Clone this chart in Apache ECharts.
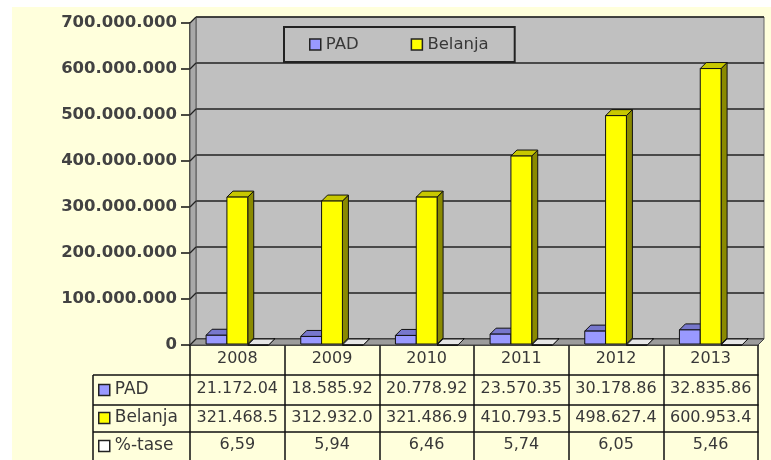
<!DOCTYPE html>
<html><head><meta charset="utf-8">
<script src="https://cdn.jsdelivr.net/npm/echarts@6/dist/echarts.min.js"></script>
<style>
html,body{margin:0;padding:0;background:#fff;}
#bg{position:absolute;left:12px;top:7px;width:759px;height:453px;background:#FFFFDC;}
#c{position:absolute;left:0;top:0;width:771px;height:460px;}
</style></head>
<body><div id="bg"></div><div id="c"></div>
<script>
const categories = ['2008', '2009', '2010', '2011', '2012', '2013'];
const pad = [21172040, 18585920, 20778920, 23570350, 30178860, 32835860];
const belanja = [321468500, 312932000, 321486900, 410793500, 498627400, 600953400];
const tase = [6.59, 5.94, 6.46, 5.74, 6.05, 5.46];
const yMin = 0, yMax = 700000000, yStep = 100000000;

const FONT = 'DejaVu Sans';
const TXT = '#383838';
function dots(v){ return String(Math.round(v)).replace(/\B(?=(\d{3})+(?!\d))/g, '.'); }
const padLabels = pad.map(v => dots(v).slice(0, 9));
const belLabels = belanja.map(v => dots(v).slice(0, 9));
const taseLabels = tase.map(v => v.toFixed(2).replace('.', ','));

const D = 6;
function make3D(k, front, topc, side){
  return function(params, api){
    const i = api.value(0), v = api.value(1);
    const t = api.coord([i, v]);
    const b = api.coord([i, 0]);
    const cw = api.size([1, 0])[0];
    const bw = cw * 0.22;
    const x0 = t[0] + (k - 1.5) * bw;
    const x1 = x0 + bw;
    const yT = t[1], yB = b[1] - 1;
    const st = {stroke:'#111', lineWidth:1};
    return {type:'group', children:[
      {type:'polygon', shape:{points:[[x1,yB],[x1+D,yB-D],[x1+D,yT-D],[x1,yT]]}, style:Object.assign({fill:side}, st)},
      {type:'polygon', shape:{points:[[x0,yT],[x0+D,yT-D],[x1+D,yT-D],[x1,yT]]}, style:Object.assign({fill:topc}, st)},
      {type:'rect', shape:{x:x0, y:yT, width:bw, height:Math.max(0, yB-yT)}, style:Object.assign({fill:front}, st)}
    ]};
  };
}
const toData = arr => arr.map((v, i) => [i, v]);

const L = 190, R = 758, T = 23, B = 345;
const chart = echarts.init(document.getElementById('c'), null, {renderer:'canvas'});

function rowAxis(offset, len, margin, labels){
  return {
    type:'category', gridIndex:0, data:categories, position:'bottom', offset:offset,
    axisLine:{show:true, lineStyle:{color:'#111', width:1.5}},
    axisTick:{show:true, length:len, lineStyle:{color:'#111', width:1.5}},
    axisLabel:{interval:0, margin:margin, fontFamily:FONT, fontSize:16, color:TXT,
      formatter: labels ? ((val, idx) => labels[idx]) : undefined},
    splitLine:{show:false}
  };
}

const option = {
  animation:false,
  backgroundColor:'transparent',
  grid:[
    {left:L, right:771-R, top:T, bottom:460-B},
    {left:L+D, right:771-R-D, top:T-D, bottom:460-B+D, show:true, backgroundColor:'#C0C0C0', borderColor:'#666', borderWidth:1}
  ],
  legend:[
    {left:284, top:27, orient:'horizontal', padding:[9,26,9,25], itemGap:52, itemWidth:11, itemHeight:11,
      borderColor:'#222', borderWidth:2, textStyle:{fontFamily:FONT, fontSize:16.5, color:TXT},
      data:[{name:'PAD', icon:'rect', itemStyle:{color:'#9999FF', borderColor:'#222', borderWidth:1.5}},
            {name:'Belanja', icon:'rect', itemStyle:{color:'#FFFF00', borderColor:'#222', borderWidth:1.5}}]},
    {left:98, top:381, orient:'vertical', padding:0, itemGap:10, itemWidth:11, itemHeight:11,
      textStyle:{fontFamily:FONT, fontSize:17, color:TXT, lineHeight:18},
      data:[{name:'PAD', icon:'rect', itemStyle:{color:'#9999FF', borderColor:'#222', borderWidth:1.5}},
            {name:'Belanja', icon:'rect', itemStyle:{color:'#FFFF00', borderColor:'#222', borderWidth:1.5}},
            {name:'%-tase', icon:'rect', itemStyle:{color:'#FFFFFF', borderColor:'#222', borderWidth:1.5}}]}
  ],
  xAxis:[
    rowAxis(0, 30, 6, null),
    rowAxis(30, 30, 6, padLabels),
    rowAxis(60, 27, 5, belLabels),
    rowAxis(87, 30, 5, taseLabels),
    {type:'category', gridIndex:1, data:categories, show:false}
  ],
  yAxis:[
    {type:'value', gridIndex:0, min:yMin, max:yMax, interval:yStep,
      axisLine:{show:true, lineStyle:{color:'#111', width:1.5}},
      axisTick:{show:true, length:9, lineStyle:{color:'#111', width:1.5}},
      axisLabel:{margin:13, fontFamily:FONT, fontSize:16.5, fontWeight:'bold', color:'#424242', formatter:v => dots(v)},
      splitLine:{show:false}},
    {type:'value', gridIndex:1, min:yMin, max:yMax, interval:yStep,
      axisLine:{show:false}, axisTick:{show:false}, axisLabel:{show:false},
      splitLine:{show:true, lineStyle:{color:'#222', width:1.5}}}
  ],
  graphic:[
    {type:'polygon', z:1, shape:{points:[[L,T],[L+D,T-D],[L+D,B-D],[L,B]]}, style:{fill:'#A9A9A9', stroke:'#555', lineWidth:1}},
    {type:'polygon', z:1, shape:{points:[[L,B],[L+D,B-D],[R+D,B-D],[R,B]]}, style:{fill:'#9C9C9C', stroke:'#444', lineWidth:1}},
    {type:'line', z:5, shape:{x1:93, y1:375, x2:L, y2:375}, style:{stroke:'#111', lineWidth:1.5}},
    {type:'line', z:5, shape:{x1:93, y1:405, x2:L, y2:405}, style:{stroke:'#111', lineWidth:1.5}},
    {type:'line', z:5, shape:{x1:93, y1:432, x2:L, y2:432}, style:{stroke:'#111', lineWidth:1.5}},
    {type:'line', z:5, shape:{x1:93, y1:375, x2:93, y2:460}, style:{stroke:'#111', lineWidth:1.5}}
  ],
  series:[
    {name:'PAD', type:'custom', xAxisIndex:0, yAxisIndex:0, z:3, itemStyle:{color:'#9999FF'},
      renderItem:make3D(0, '#9999FF', '#7777CC', '#4C4C80'), encode:{x:0, y:1}, data:toData(pad)},
    {name:'Belanja', type:'custom', xAxisIndex:0, yAxisIndex:0, z:4, itemStyle:{color:'#FFFF00'},
      renderItem:make3D(1, '#FFFF00', '#C8C800', '#8A8A00'), encode:{x:0, y:1}, data:toData(belanja)},
    {name:'%-tase', type:'custom', xAxisIndex:0, yAxisIndex:0, z:2, itemStyle:{color:'#FFFFFF'},
      renderItem:make3D(2, '#FFFFFF', '#E6E6E6', '#909090'), encode:{x:0, y:1}, data:toData(tase)}
  ]
};
chart.setOption(option);

// slanted tick lines on the side wall, positioned from the axis scale
const extra = [];
for (let v = yMin; v <= yMax; v += yStep){
  const y = chart.convertToPixel({yAxisIndex:0}, v);
  extra.push({type:'line', z:1, shape:{x1:L, y1:y, x2:L+D, y2:y-D}, style:{stroke:'#222', lineWidth:1.2}});
}
chart.setOption({graphic: option.graphic.concat(extra)});
</script>
</body></html>
